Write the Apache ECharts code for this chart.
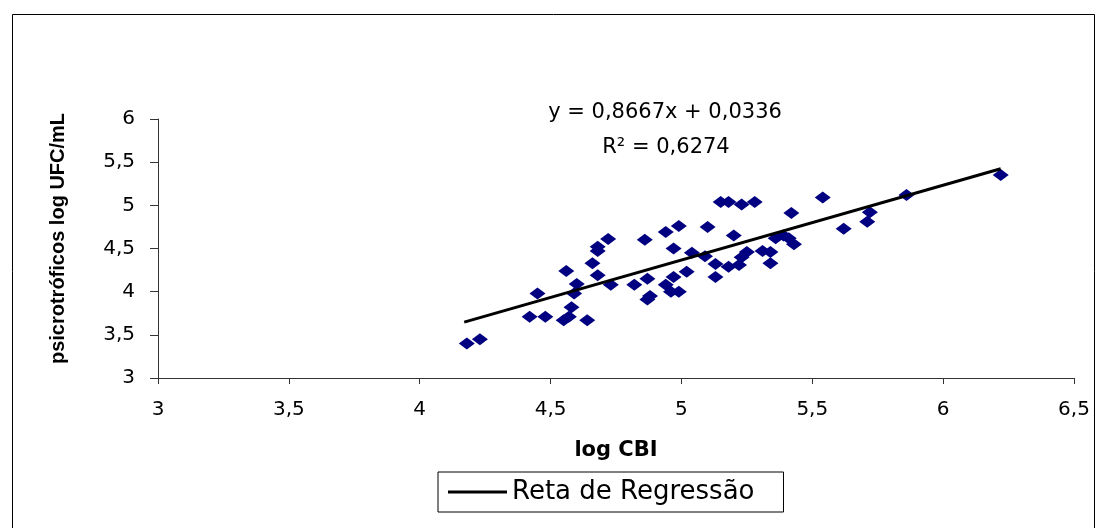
<!DOCTYPE html>
<html>
<head>
<meta charset="utf-8">
<script src="https://cdn.jsdelivr.net/npm/echarts@6/dist/echarts.min.js"></script>
<style>
html,body{margin:0;padding:0;background:#fff;}
#chart{width:1108px;height:528px;}
</style>
</head>
<body>
<div id="chart"></div>
<script>
// Data
const logCBI = [4.18,4.23,4.42,4.48,4.45,4.55,4.57,4.58,4.59,4.60,4.56,4.64,4.66,4.68,4.68,4.72,4.68,4.73,4.82,4.86,4.87,4.87,4.88,4.94,4.99,4.97,4.94,4.97,4.96,4.99,5.02,5.04,5.10,5.15,5.18,5.23,5.28,5.20,5.09,5.13,5.13,5.18,5.22,5.25,5.23,5.31,5.34,5.34,5.36,5.39,5.41,5.43,5.42,5.54,5.62,5.71,5.72,5.86,6.22];
const logUFC = [3.40,3.45,3.71,3.71,3.98,3.67,3.71,3.82,3.98,4.09,4.24,3.67,4.33,4.52,4.47,4.61,4.19,4.08,4.08,4.60,4.15,3.91,3.95,4.69,4.76,4.50,4.08,4.17,4.00,4.00,4.23,4.45,4.75,5.04,5.04,5.01,5.04,4.65,4.41,4.32,4.17,4.29,4.31,4.46,4.40,4.47,4.46,4.33,4.62,4.65,4.62,4.55,4.91,5.09,4.73,4.81,4.92,5.12,5.35];
const slope = 0.8667;
const intercept = 0.0336;
const lineRange = [4.17, 6.22];
const equationText = 'y = 0,8667x + 0,0336';
const r2Text = 'R² = 0,6274';
const xAxisTitle = 'log CBI';
const yAxisTitle = 'psicrotróficos log UFC/mL';
const lineName = 'Reta de Regressão';

const scatterData = logCBI.map((x, i) => [x, logUFC[i]]);
const lineData = lineRange.map(x => [x, slope * x + intercept]);
const fmt = v => String(v).replace('.', ',');

const chart = echarts.init(document.getElementById('chart'), null, {renderer: 'canvas'});
chart.setOption({
  animation: false,
  backgroundColor: '#fff',
  grid: {left: 158, right: 34, top: 119, bottom: 150},
  xAxis: {
    type: 'value', min: 3, max: 6.5, interval: 0.5,
    name: xAxisTitle, nameLocation: 'middle', nameGap: 62,
    nameTextStyle: {fontFamily: 'DejaVu Sans', fontWeight: 'bold', fontSize: 21, color: '#000'},
    axisLine: {show: true, onZero: false, lineStyle: {color: '#333', width: 1}},
    axisTick: {show: true, inside: false, length: 6, lineStyle: {color: '#333'}},
    axisLabel: {formatter: fmt, margin: 22, fontFamily: 'DejaVu Sans', fontSize: 20, color: '#000'},
    splitLine: {show: false}
  },
  yAxis: {
    type: 'value', min: 3, max: 6, interval: 0.5,
    name: yAxisTitle, nameLocation: 'middle', nameGap: 90,
    nameTextStyle: {fontFamily: 'Liberation Sans', fontWeight: 'bold', fontSize: 20, color: '#000', padding: [0, 0, 0, 20]},
    axisLine: {show: true, onZero: false, lineStyle: {color: '#333', width: 1}},
    axisTick: {show: true, inside: false, length: 8, lineStyle: {color: '#333'}},
    axisLabel: {formatter: fmt, margin: 23, fontFamily: 'DejaVu Sans', fontSize: 20, color: '#000'},
    splitLine: {show: false}
  },
  legend: {
    data: [{name: lineName, icon: 'rect'}],
    left: 438, top: 472,
    itemWidth: 59, itemHeight: 3, itemGap: 0,
    padding: [7, 29, 7, 10],
    borderColor: '#000', borderWidth: 1,
    selectedMode: false,
    textStyle: {fontFamily: 'DejaVu Sans', fontSize: 26, color: '#000'}
  },
  graphic: [
    {type: 'rect', silent: true, shape: {x: 12.5, y: 14.5, width: 1082, height: 540}, style: {fill: 'none', stroke: '#000', lineWidth: 1}, z: -1},
    {type: 'text', x: 665, y: 113, silent: true, style: {text: equationText, fontFamily: 'DejaVu Sans', fontSize: 21, fill: '#000', align: 'center', verticalAlign: 'middle'}},
    {type: 'text', x: 666, y: 148, silent: true, style: {text: r2Text, fontFamily: 'DejaVu Sans', fontSize: 21, fill: '#000', align: 'center', verticalAlign: 'middle'}}
  ],
  series: [
    {
      type: 'scatter', name: 'dados', data: scatterData,
      symbol: 'diamond', symbolSize: [16, 12],
      itemStyle: {color: '#000080', opacity: 1}, z: 2
    },
    {
      type: 'line', name: lineName, data: lineData,
      symbol: 'none', showSymbol: false,
      lineStyle: {color: '#000', width: 3},
      itemStyle: {color: '#000'}, z: 3
    }
  ]
});
</script>
</body>
</html>
